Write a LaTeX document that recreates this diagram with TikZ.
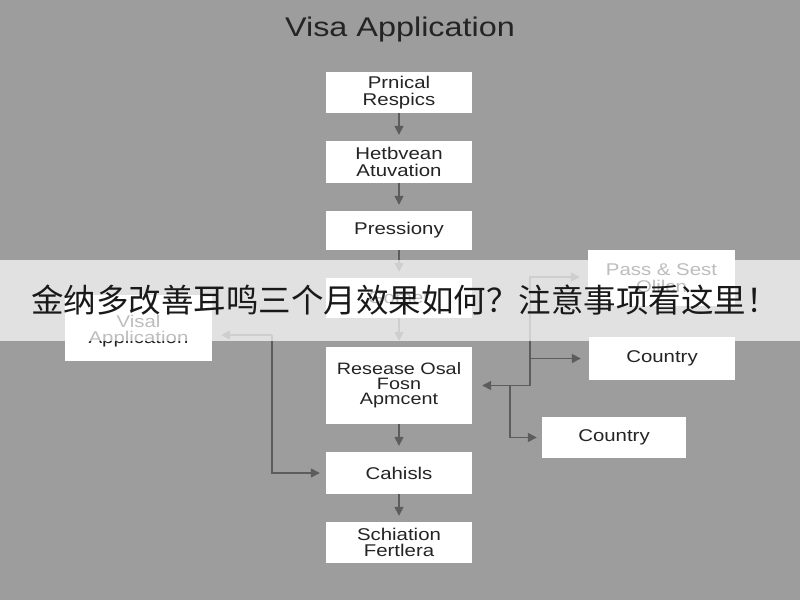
\documentclass[tikz,border=0pt]{standalone}
\usepackage{fontspec}
\setmainfont{Liberation Sans}
\newfontfamily\widesans{Liberation Sans}[FakeStretch=1.2]
\newfontfamily\cjk{Noto Sans CJK SC}
\usetikzlibrary{arrows.meta}
\definecolor{bggray}{RGB}{157,157,157}
\definecolor{linegray}{RGB}{92,92,92}
\definecolor{inkgray}{RGB}{36,36,36}
\tikzset{
  boxtext/.style={align=center, inner sep=0pt, text=inkgray,
    font=\widesans\fontsize{17}{16.5}\selectfont},
  stepbox/.style={boxtext, fill=white, draw=none, minimum width=146pt},
  arr/.style={draw=linegray, line width=1.5pt, -{Triangle[length=9pt,width=9pt]}},
}
\begin{document}
\begin{tikzpicture}[x=1pt,y=-1pt]
\useasboundingbox (0,0) rectangle (800,600);
\fill[bggray] (0,0) rectangle (800,600);

% title
\node[text=inkgray, font=\widesans\fontsize{27}{29}\selectfont] (title) at (400,30) {Visa Application};

% main column
\node[stepbox, minimum height=41pt] (b1) at (399,92.5) {Prnical\\Respics};
\node[stepbox, minimum height=42pt] (b2) at (399,162) {Hetbvean\\Atuvation};
\node[stepbox, minimum height=39pt] (b3) at (399,230.5) {Pressiony};
\node[stepbox, minimum height=40pt] (b4) at (399,298) {Gomer};
\node[stepbox, minimum height=77pt, font=\widesans\fontsize{16.5}{14.8}\selectfont] (b5) at (399,385.5) {Resease Osal\\Fosn\\Apmcent};
\node[stepbox, minimum height=42pt] (b6) at (399,473) {Cahisls};
\node[stepbox, minimum height=41pt] (b7) at (399,542.5) {Schiation\\Fertlera};

% side boxes
\node[stepbox, minimum width=147pt, minimum height=66pt] (visa) at (138.5,328) {};
\node[boxtext] (visalabel) at (138.5,331) {Visal\\Application};
\node[stepbox, minimum width=147pt, minimum height=56pt] (pass) at (661.5,278) {Pass \& Sest\\Olilcn};
\node[stepbox, minimum height=43pt] (c1) at (662,358.5) {Country};
\node[stepbox, minimum width=144pt, minimum height=41pt] (c2) at (614,437.5) {Country};

% main flow
\foreach \a/\b in {b1/b2,b2/b3,b3/b4,b4/b5,b5/b6,b6/b7}
  \draw[arr, shorten >=6pt] (\a) -- (\b);

% left branch
\coordinate (jl) at (272,335);
\draw[arr, shorten >=9pt] (jl) -- (visa.east |- jl);
\draw[arr, shorten >=6pt] (jl) |- (b6.west);

% right branches
\coordinate (jr) at (530,385.5);
\coordinate (jp) at (530,277);
\coordinate (jd) at (510,385.5);
\draw[arr, shorten >=10pt] (jr) -- (b5.east);
\draw[arr, shorten >=8pt] (jr) -- (jp) -- (pass.west |- jp);
\draw[arr, shorten >=8pt] (jr |- c1) -- (c1.west);
\draw[arr, shorten >=5pt] (jd) |- (c2.west);

% headline band
\fill[white, opacity=0.7] (0,260) rectangle (800,341);
\node[text=black!90, font=\cjk\fontsize{32.5}{34}\selectfont, inner sep=0pt] (headline) at (405,300) {金纳多改善耳鸣三个月效果如何？注意事项看这里！};
\end{tikzpicture}
\end{document}
